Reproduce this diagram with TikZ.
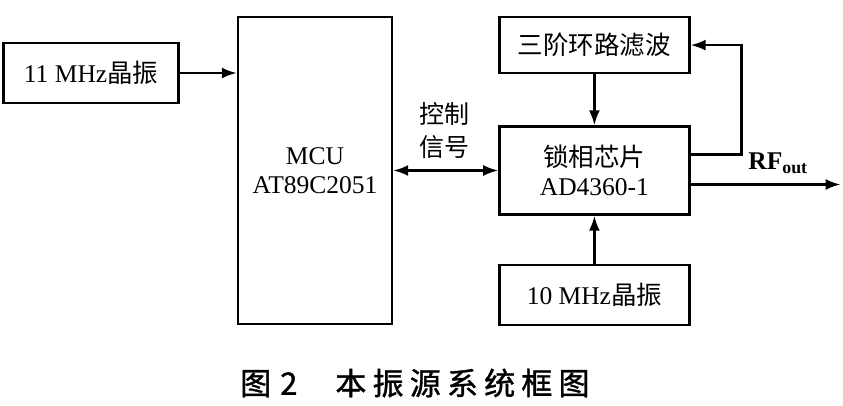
\documentclass[tikz,border=0pt]{standalone}
\usepackage{fontspec}
\setmainfont{Liberation Serif}
\newfontfamily\cjk{Noto Sans CJK SC}
\newfontfamily\captionfont[LetterSpace=20,FakeBold=1.2]{Noto Sans CJK SC}
\usetikzlibrary{positioning,arrows.meta}
\tikzset{
  block/.style={draw, line width=2.4pt, minimum width=190pt, font=\fontsize{25.5}{29}\selectfont, align=center, inner sep=0pt},
  sig/.style={line width=2.4pt, -{Latex[length=15pt,width=11pt]}},
}
\begin{document}
\begin{tikzpicture}[x=1pt,y=-1pt]
 \useasboundingbox[fill=white] (0,0) rectangle (843,406);
 \node [block, minimum width=154pt, minimum height=307pt] (mcu) at (315,170.5) {MCU\\AT89C2051};
 \node [block, minimum width=175pt, minimum height=60pt, below left=26pt and 57pt of mcu.north west, anchor=north east] (osc11) {11 MHz{\cjk 晶振}};
 \node [block, minimum height=88pt, right=105pt of mcu] (pll) {{\cjk 锁相芯片}\\AD4360-1};
 \node [block, minimum height=56pt, above=51pt of pll] (filter) {\cjk 三阶环路滤波};
 \node [block, minimum height=60pt, below=48pt of pll] (osc10) {10 MHz{\cjk 晶振}};
 \coordinate [below right=14pt and 150pt of pll.east] (rfend);
 \node [font=\fontsize{25}{33}\selectfont\cjk, align=center] (ctrl) at (444,131) {控制\\信号};
 \node [font=\fontsize{25.5}{28}\selectfont\bfseries] (rf) at (778,163) {RF\textsubscript{out}};
 \node [font=\fontsize{31}{34}\selectfont\captionfont, anchor=west, inner sep=0pt] (cap) at (240,383) {图\hspace{9pt}2\hspace{38pt}本振源系统框图};

 \draw [sig] (osc11) -- (osc11 -| mcu.west);
 \draw [sig, {Latex[length=15pt,width=11pt]}-{Latex[length=15pt,width=11pt]}] (mcu.east |- pll) -- (pll);
 \draw [sig] (filter) -- (pll);
 \draw [sig] (osc10) -- (pll);
 \draw [sig] ([yshift=16pt]pll.east) -- ++(51,0) |- (filter.east);
 \draw [sig] (rfend -| pll.east) -- (rfend);
\end{tikzpicture}
\end{document}
